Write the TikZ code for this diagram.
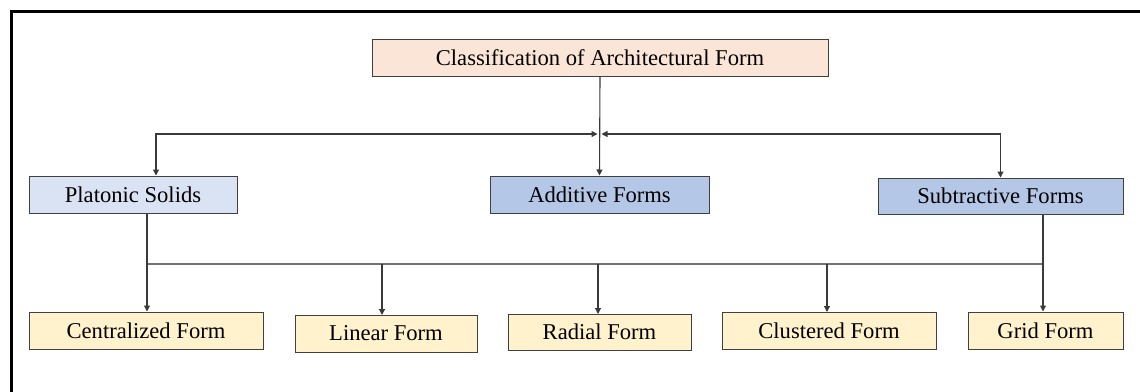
\documentclass[tikz,border=0pt]{standalone}
\usepackage{fontspec}
\setmainfont{Liberation Serif}
\usetikzlibrary{arrows.meta}
\definecolor{peach}{HTML}{FBE5D6}
\definecolor{paleblue}{HTML}{DAE3F3}
\definecolor{midblue}{HTML}{B4C7E7}
\definecolor{paleyellow}{HTML}{FFF2CC}
\definecolor{edge}{HTML}{404040}
\definecolor{wire}{HTML}{3A3A3A}
\tikzset{
  box/.style={draw=edge, line width=1pt, rectangle, inner sep=0pt, align=center,
    font=\fontsize{22.6}{26}\selectfont},
  arr/.style={draw=wire, line width=1.1pt, -{Triangle[width=6pt,length=6pt]}},
  biarr/.style={draw=wire, line width=1.1pt, {Triangle[width=6pt,length=6pt]}-{Triangle[width=6pt,length=6pt]}},
  bus/.style={draw=gray!90!black, line width=1.1pt},
}
\begin{document}
\begin{tikzpicture}[x=1pt,y=-1pt]
\useasboundingbox (0,0) rectangle (1140,391);
% frame
\draw[line width=3pt, line cap=rect] (11.5,391) -- (11.5,11.5) -- (1140,11.5);
% nodes
\node[box, fill=peach, minimum width=456pt, minimum height=37pt] (top) at (600,57.5) {Classification of Architectural Form};
\node[box, fill=paleblue, minimum width=208pt, minimum height=37pt] (plat) at (133,194.5) {Platonic Solids};
\node[box, fill=midblue, minimum width=219pt, minimum height=37pt] (add) at (599.5,194.5) {Additive Forms};
\node[box, fill=midblue, minimum width=245pt, minimum height=36pt] (sub) at (1000.5,196) {Subtractive Forms};
\node[box, fill=paleyellow, minimum width=234pt, minimum height=37pt] (cen) at (146,330.5) {Centralized Form};
\node[box, fill=paleyellow, minimum width=182pt, minimum height=37pt] (lin) at (386,333.5) {Linear Form};
\node[box, fill=paleyellow, minimum width=183pt, minimum height=36pt] (rad) at (599.5,332) {Radial Form};
\node[box, fill=paleyellow, minimum width=214pt, minimum height=37pt] (clu) at (829,330.5) {Clustered Form};
\node[box, fill=paleyellow, minimum width=155pt, minimum height=37pt] (grid) at (1045.5,330.5) {Grid Form};
% upper connectors
\coordinate (hubL) at (597.5,134);
\coordinate (hubR) at (601.5,134);
\draw[arr] (top.south) -- (add.north);
\draw[biarr] (hubL) -| ([xshift=23pt]plat.north);
\draw[biarr] (hubR) -| (sub.north);
% lower connectors
\coordinate (busL) at (147,264);
\coordinate (busR) at (1043,264);
\draw[bus] (busL) -- (busR);
\draw[wire, line width=1.1pt] (busL |- plat.south) -- (busL);
\draw[arr] (busL) -- (busL |- cen.north);
\draw[arr] (382,264) -- (382,315);
\draw[arr] (598,264) -- (598,314);
\draw[arr] (827,264) -- (827,312);
\draw[arr] (busR |- sub.south) -- (busR |- grid.north);
\end{tikzpicture}
\end{document}
